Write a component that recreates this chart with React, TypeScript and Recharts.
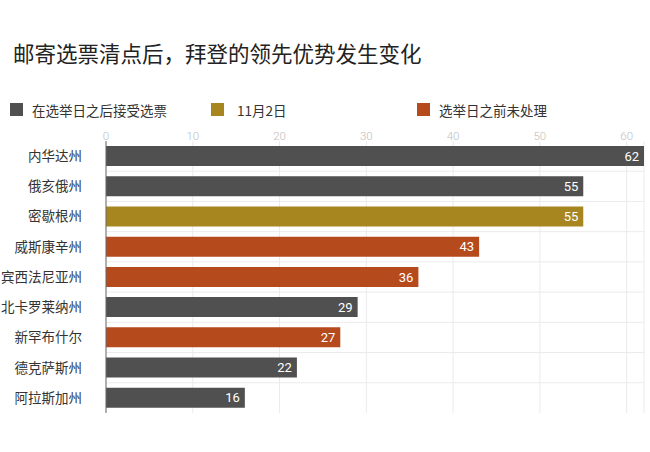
import React from "react";
import { Bar, BarChart, CartesianGrid, Cell, LabelList, XAxis, YAxis } from "recharts";

const states = ["内华达州", "俄亥俄州", "密歇根州", "威斯康辛州", "宾西法尼亚州", "北卡罗莱纳州", "新罕布什尔", "德克萨斯州", "阿拉斯加州"];
const values = [62, 55, 55, 43, 36, 29, 27, 22, 16];
// which legend group each state belongs to
const groups = [0, 0, 1, 2, 2, 0, 2, 0, 0];
const groupNames = ["在选举日之后接受选票", "11月2日", "选举日之前未处理"];
const xTicks = [0, 10, 20, 30, 40, 50, 60];

const colors = ["#505050", "#a7851f", "#b54a1c"];
const cjk = '"Noto Sans CJK SC", "Noto Sans", sans-serif';
const legendX = [10, 211, 417];

const data = states.map((state, i) => ({ state, value: values[i], group: groups[i] }));

const renderStateTick = (props: any) => (
  <text key={props.payload.value} x={props.x - 16} y={props.y} dy="0.36em" textAnchor="end" fill="#333333" fontSize={13.5} fontFamily={cjk}>
    {props.payload.value}
  </text>
);

const renderNumberTick = (props: any) => (
  <text key={props.payload.value} x={props.x} y={props.y + 6.5} textAnchor="middle" fill="#bdbdbd" fontSize={11.5} fontFamily="Roboto" fontWeight={300}>
    {props.payload.value}
  </text>
);

export default function App() {
  return (
    <div style={{ position: "absolute", left: 0, top: 0, width: 650, height: 452, background: "#fff", fontFamily: cjk }}>
      <div style={{ position: "absolute", left: 13, top: 41, fontSize: 21.5, lineHeight: "24px", color: "#222" }}>
        邮寄选票清点后，拜登的领先优势发生变化
      </div>
      {groupNames.map((name, i) => (
        <div key={name} style={{ position: "absolute", left: legendX[i], top: 101, height: 17, display: "flex", alignItems: "center", fontSize: 13.5, color: "#333" }}>
          <span style={{ width: 13, height: 13, background: colors[i], marginRight: i === 1 ? 13 : 9 }} />
          {name}
        </div>
      ))}
      <BarChart
        width={650}
        height={452}
        data={data}
        layout="vertical"
        margin={{ top: 121, right: 6, bottom: 39, left: 0 }}
        style={{ position: "absolute", left: 0, top: 0 }}
      >
        <CartesianGrid
          stroke="#ebebeb"
          horizontalCoordinatesGenerator={({ offset }: any) =>
            states.slice(1).map((_, i) => offset.top + ((i + 1) * offset.height) / states.length)
          }
        />
        <XAxis
          type="number"
          orientation="top"
          domain={[0, 62]}
          ticks={xTicks}
          height={20}
          axisLine={false}
          tickLine={false}
          tick={renderNumberTick}
        />
        <YAxis
          type="category"
          dataKey="state"
          width={106}
          axisLine={{ stroke: "#6a6a6a" }}
          tickLine={false}
          tick={renderStateTick}
        />
        <Bar dataKey="value" barSize={20} isAnimationActive={false}>
          {data.map((d) => (
            <Cell key={d.state} fill={colors[d.group]} />
          ))}
          <LabelList dataKey="value" position="insideRight" offset={5} fill="#fff" fontSize={13} fontFamily="Roboto" />
        </Bar>
      </BarChart>
    </div>
  );
}
